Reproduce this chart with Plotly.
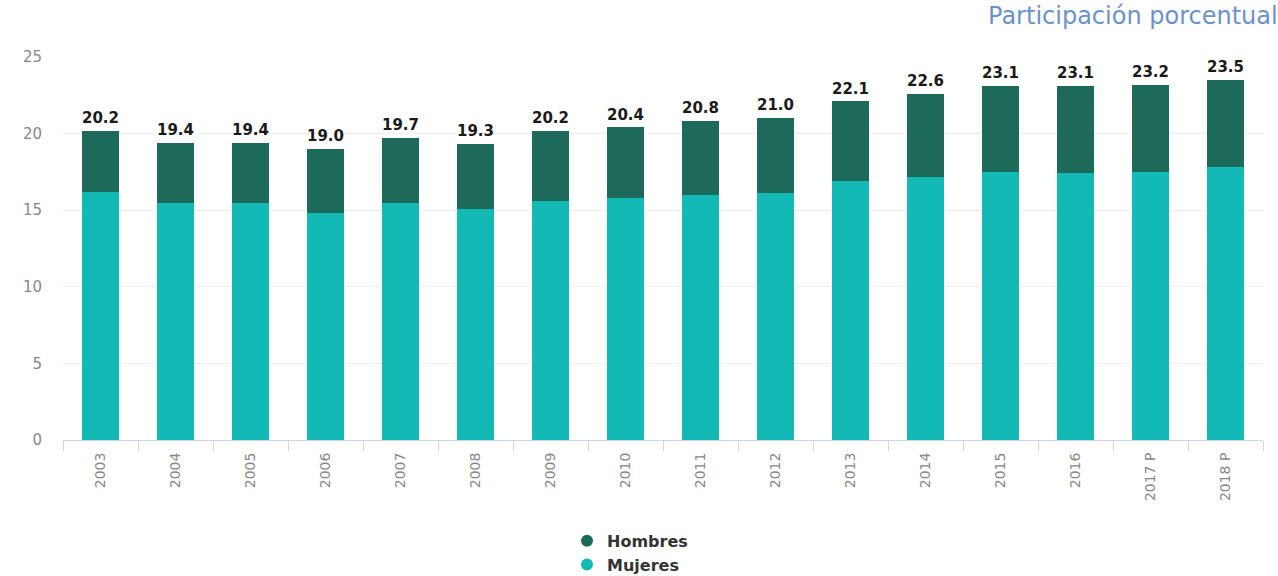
import plotly.graph_objects as go

# Participación porcentual por sexo, 2003-2018 (P = preliminar)
years = ["2003", "2004", "2005", "2006", "2007", "2008", "2009", "2010",
         "2011", "2012", "2013", "2014", "2015", "2016", "2017 P", "2018 P"]
totals = [20.2, 19.4, 19.4, 19.0, 19.7, 19.3, 20.2, 20.4,
          20.8, 21.0, 22.1, 22.6, 23.1, 23.1, 23.2, 23.5]
mujeres = [16.2, 15.5, 15.5, 14.8, 15.5, 15.1, 15.6, 15.8,
           16.0, 16.1, 16.9, 17.2, 17.5, 17.4, 17.5, 17.8]
hombres = [round(t - m, 1) for t, m in zip(totals, mujeres)]

color_hombres = "#1d6a5b"
color_mujeres = "#13b9b4"

fig = go.Figure()

fig.add_trace(go.Bar(x=years, y=mujeres, name="Mujeres", marker_color=color_mujeres,
                     marker_line_width=0, showlegend=False))
fig.add_trace(go.Bar(x=years, y=hombres, name="Hombres", marker_color=color_hombres,
                     marker_line_width=0, showlegend=False))

# total labels above each stacked column (invisible marker adds a little lift)
fig.add_trace(go.Scatter(
    x=years, y=totals, mode="markers+text",
    marker=dict(size=5, opacity=0),
    text=[f"{v:.1f}" for v in totals],
    textposition="top center",
    textfont=dict(family="DejaVu Sans", size=15, color="#1a1a1a", weight="bold"),
    showlegend=False, hoverinfo="skip", cliponaxis=False,
))

# legend entries with round markers
fig.add_trace(go.Scatter(x=[None], y=[None], mode="markers", name="Hombres",
                         marker=dict(color=color_hombres, size=16, symbol="circle")))
fig.add_trace(go.Scatter(x=[None], y=[None], mode="markers", name="Mujeres",
                         marker=dict(color=color_mujeres, size=16, symbol="circle")))

fig.update_layout(
    width=1278, height=576,
    margin=dict(l=63, r=15, t=57, b=136, autoexpand=False),
    barmode="stack",
    bargap=0.5,
    plot_bgcolor="white",
    paper_bgcolor="white",
    font=dict(family="DejaVu Sans", color="#666666"),
    legend=dict(
        orientation="v", x=0.4725, xanchor="center", y=-0.219, yanchor="top",
        traceorder="normal",
        font=dict(family="DejaVu Sans", size=16, color="#333333", weight="bold"),
        itemsizing="constant", tracegroupgap=0, bgcolor="rgba(0,0,0,0)",
    ),
    xaxis=dict(
        type="category",
        range=[-0.5, len(years) - 0.5],
        showgrid=False,
        showline=True, linecolor="#ccd6eb", linewidth=1,
        ticks="outside", tickson="boundaries", ticklen=10, tickcolor="#ccd6eb",
        tickangle=-90,
        ticklabelstandoff=6,
        tickfont=dict(family="DejaVu Sans", size=14, color="#888888"),
    ),
    yaxis=dict(
        range=[0, 25], dtick=5,
        showgrid=True, gridcolor="#eeeeee", gridwidth=1,
        zeroline=False, showline=False, ticks="",
        ticklabelstandoff=20,
        tickfont=dict(family="DejaVu Sans", size=15, color="#888888"),
    ),
    annotations=[dict(
        text="Participación porcentual",
        xref="paper", yref="paper", x=0.769, y=1.107,
        xanchor="left", yanchor="middle", showarrow=False,
        font=dict(family="DejaVu Sans", size=24, color="#6b92c9"),
    )],
)

fig.write_html("out.html")
